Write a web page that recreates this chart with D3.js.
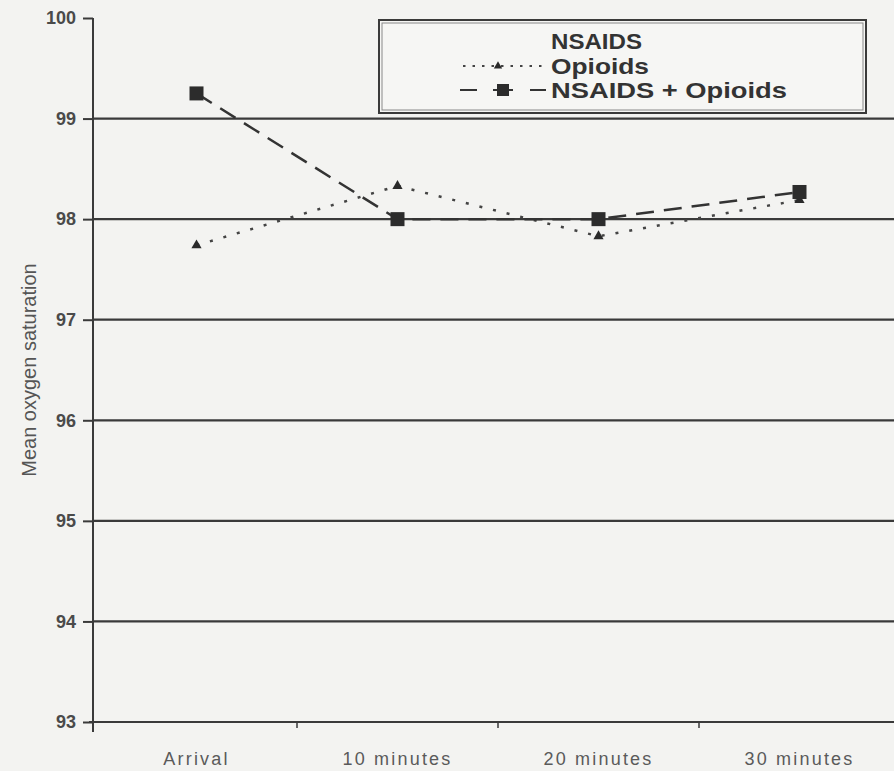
<!DOCTYPE html>
<html><head><meta charset="utf-8">
<script src="https://cdn.jsdelivr.net/npm/d3@7"></script>
<style>
html,body{margin:0;padding:0;background:#f3f3f1;}
svg{display:block;}
</style></head>
<body>
<svg id="chart" width="894" height="771"></svg>
<script>
const categories = ["Arrival", "10 minutes", "20 minutes", "30 minutes"];
const opioids = [97.74, 98.33, 97.83, 98.19];
const nsaidsOpioids = [99.25, 98.0, 98.0, 98.27];
const yTicks = [93, 94, 95, 96, 97, 98, 99, 100];
const seriesNames = ["NSAIDS", "Opioids", "NSAIDS + Opioids"];

const svg = d3.select("#chart");
const W = 894, H = 771;
const m = {left: 93, top: 18, bottom: 722};

const x = d3.scaleBand().domain(categories).range([96, 900]);
const y = d3.scaleLinear().domain([93, 100]).range([m.bottom, m.top]);
const ink = "#3a3a3a";

svg.append("rect").attr("width", W).attr("height", H).attr("fill", "#f3f3f1");

// gridlines
svg.append("g").selectAll("line").data(yTicks.filter(d => d > 93 && d < 100)).join("line")
  .attr("x1", m.left).attr("x2", W)
  .attr("y1", d => y(d)).attr("y2", d => y(d))
  .attr("stroke", ink).attr("stroke-width", 2.2);

// y axis
const yAxis = svg.append("g").attr("transform", `translate(${m.left},0)`)
  .call(d3.axisLeft(y).tickValues(yTicks).tickSize(10).tickPadding(7).tickFormat(d3.format("d")));
yAxis.select(".domain").remove();
yAxis.selectAll(".tick line").attr("stroke", ink).attr("stroke-width", 2);
yAxis.selectAll(".tick text").attr("fill", "#4a4a4a")
  .style("font-family", "'Liberation Sans', Arial, sans-serif")
  .style("font-size", "18px").style("font-weight", "bold");
svg.append("line").attr("x1", m.left).attr("x2", m.left).attr("y1", m.top).attr("y2", m.bottom + 10)
  .attr("stroke", ink).attr("stroke-width", 2);

// x axis
const xAxis = svg.append("g").attr("transform", `translate(0,${m.bottom})`)
  .call(d3.axisBottom(x).tickSize(0).tickPadding(30));
xAxis.select(".domain").remove();
xAxis.selectAll(".tick text").attr("fill", "#5a5a5a")
  .style("font-family", "'Liberation Sans Narrow', 'Liberation Sans', Arial, sans-serif")
  .style("font-size", "18px").style("letter-spacing", "2.2px");
svg.append("line").attr("x1", m.left - 4).attr("x2", W).attr("y1", m.bottom).attr("y2", m.bottom)
  .attr("stroke", ink).attr("stroke-width", 2);
svg.append("g").selectAll("line").data(categories.slice(1)).join("line")
  .attr("x1", d => x(d)).attr("x2", d => x(d))
  .attr("y1", m.bottom).attr("y2", m.bottom + 6)
  .attr("stroke", ink).attr("stroke-width", 1.5);

// y label
svg.append("text").attr("transform", "translate(36,370) rotate(-90)")
  .attr("text-anchor", "middle").attr("fill", "#555")
  .style("font-family", "'Liberation Sans', Arial, sans-serif").style("font-size", "20px")
  .text("Mean oxygen saturation");

const cx = d => x(d) + x.bandwidth() / 2;
const line = d3.line().x(d => cx(d.c)).y(d => y(d.v));

// opioids (dotted, triangles)
const opData = categories.map((c, i) => ({c, v: opioids[i]}));
svg.append("path").datum(opData).attr("d", line).attr("fill", "none")
  .attr("stroke", "#444").attr("stroke-width", 2.5).attr("stroke-dasharray", "3,11");
const tri = d3.symbol().type(d3.symbolTriangle).size(45);
svg.append("g").selectAll("path").data(opData).join("path")
  .attr("d", tri).attr("transform", d => `translate(${cx(d.c)},${y(d.v)})`).attr("fill", "#2a2a2a");

// NSAIDS + opioids (dashed, squares)
const coData = categories.map((c, i) => ({c, v: nsaidsOpioids[i]}));
svg.append("path").datum(coData).attr("d", line).attr("fill", "none")
  .attr("stroke", "#333").attr("stroke-width", 2.5).attr("stroke-dasharray", "18,10");
svg.append("g").selectAll("rect").data(coData).join("rect")
  .attr("x", d => cx(d.c) - 7).attr("y", d => y(d.v) - 7).attr("width", 14).attr("height", 14)
  .attr("fill", "#2c2c2c");

// legend
const lg = svg.append("g");
lg.append("rect").attr("x", 379).attr("y", 20).attr("width", 487).attr("height", 93)
  .attr("fill", "#f6f6f4").attr("stroke", ink).attr("stroke-width", 2);
lg.append("rect").attr("x", 382).attr("y", 23).attr("width", 481).attr("height", 87)
  .attr("fill", "none").attr("stroke", "#888").attr("stroke-width", 1);
const ly = [49, 74, 98];
lg.selectAll("text").data(seriesNames).join("text")
  .attr("x", 551).attr("y", (d, i) => ly[i]).attr("fill", "#333")
  .style("font-family", "'Liberation Sans', Arial, sans-serif").style("font-size", "22px").style("font-weight", "bold")
  .attr("textLength", (d, i) => [91, 98, 236][i]).attr("lengthAdjust", "spacingAndGlyphs")
  .text(d => d);
lg.append("line").attr("x1", 463).attr("x2", 547).attr("y1", 66).attr("y2", 66)
  .attr("stroke", "#444").attr("stroke-width", 2).attr("stroke-dasharray", "2.5,7");
lg.append("path").attr("d", d3.symbol().type(d3.symbolTriangle).size(30)).attr("transform", "translate(498,66)").attr("fill", "#2a2a2a");
lg.append("line").attr("x1", 460).attr("x2", 547).attr("y1", 90).attr("y2", 90)
  .attr("stroke", "#333").attr("stroke-width", 2).attr("stroke-dasharray", "17,16,20");
lg.append("rect").attr("x", 497).attr("y", 84).attr("width", 12).attr("height", 12).attr("fill", "#2c2c2c");
</script>
</body></html>
